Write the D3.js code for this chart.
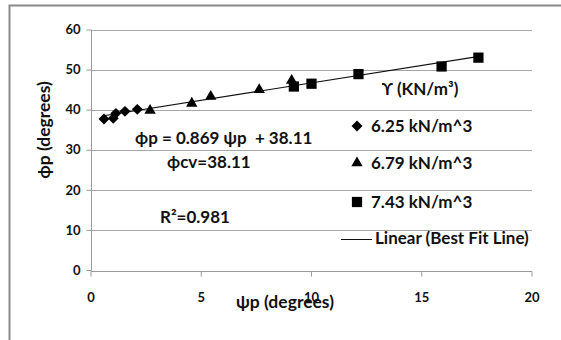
<!DOCTYPE html>
<html>
<head>
    <meta charset="utf-8">
    <style>
        body { margin: 0; background: #fff; }
        text { font-family: Lato, "DejaVu Sans", sans-serif; font-weight: 700; fill: #111; }
    </style>
</head>
<body>
    <div id="container"></div>
    <script src="https://d3js.org/d3.v7.min.js"></script>
    <script>
        // psi_p (deg) vs phi_p (deg)
        const diamondPsi = [0.59, 1.01, 1.13, 1.54, 2.10];
        const diamondPhi = [37.8, 38.0, 39.2, 39.7, 40.2];
        const trianglePsi = [2.68, 4.57, 5.43, 7.63, 9.10];
        const trianglePhi = [39.9, 41.7, 43.4, 45.1, 47.4];
        const squarePsi = [9.2, 10.0, 12.13, 15.9, 17.57];
        const squarePhi = [45.9, 46.6, 49.0, 50.9, 53.1];
        const fitSlope = 0.869, fitIntercept = 38.11;
        const fitRange = [0.5, 17.6];
        const xTicks = [0, 5, 10, 15, 20];
        const yTicks = [0, 10, 20, 30, 40, 50, 60];
        const seriesNames = ["6.25 kN/m^3", "6.79 kN/m^3", "7.43 kN/m^3"];

        const width = 561, height = 340;
        const svg = d3.select("#container").append("svg")
            .attr("width", width).attr("height", height);

        // chart frame (only top/left visible in the crop)
        svg.append("path")
            .attr("d", "M9.5,340 V5.5 H561")
            .attr("fill", "none").attr("stroke", "#8a8a8a").attr("stroke-width", 2);

        const x = d3.scaleLinear().domain([0, 20]).range([91, 532]);
        const y = d3.scaleLinear().domain([0, 60]).range([270.5, 30]);

        // gridlines
        svg.append("g").selectAll("line").data(yTicks.filter(d => d > 0)).join("line")
            .attr("x1", x(0)).attr("x2", x(20))
            .attr("y1", d => Math.round(y(d)) + 0.5).attr("y2", d => Math.round(y(d)) + 0.5)
            .attr("stroke", "#a6a6a6");

        const yAxis = svg.append("g").attr("transform", "translate(91.5,0)")
            .call(d3.axisLeft(y).tickValues(yTicks).tickSize(5).tickPadding(6).offset(0));
        yAxis.select(".domain").attr("stroke", "#999").attr("d", `M0,${y(0)}V${y(60)}`);
        yAxis.selectAll(".tick line").attr("stroke", "#999");
        yAxis.selectAll("text").style("font-size", "13px").attr("fill", "#111");

        const xAxis = svg.append("g").attr("transform", `translate(0,${Math.round(y(0)) + 0.5})`)
            .call(d3.axisBottom(x).tickValues(xTicks).tickSize(5).tickPadding(16).offset(0));
        xAxis.select(".domain").attr("stroke", "#999").attr("d", `M${x(0)},0H${x(20)}`);
        xAxis.selectAll(".tick line").attr("stroke", "#999");
        xAxis.selectAll("text").style("font-size", "13px").attr("fill", "#111");

        // best fit line
        svg.append("line")
            .attr("x1", x(fitRange[0])).attr("y1", y(fitSlope * fitRange[0] + fitIntercept))
            .attr("x2", x(fitRange[1])).attr("y2", y(fitSlope * fitRange[1] + fitIntercept))
            .attr("stroke", "#111").attr("stroke-width", 1.2);

        const diamond = d3.symbol(d3.symbolSquare, 60);
        const triangle = d3.symbol(d3.symbolTriangle, 56);
        const square = d3.symbol(d3.symbolSquare, 105);

        function plot(xs, ys, sym, rot) {
            svg.append("g").selectAll("path").data(xs).join("path")
                .attr("d", sym)
                .attr("transform", (d, i) => `translate(${x(d)},${y(ys[i])}) rotate(${rot})`)
                .attr("fill", "#000");
        }
        plot(diamondPsi, diamondPhi, diamond, 45);
        plot(trianglePsi, trianglePhi, triangle, 0);
        plot(squarePsi, squarePhi, square, 0);

        // annotations
        svg.append("text").attr("x", 135).attr("y", 144).style("font-size", "17px")
            .style("white-space", "pre").text("ϕp = 0.869 ψp  + 38.11");
        svg.append("text").attr("x", 167).attr("y", 168).style("font-size", "17px")
            .text("ϕcv=38.11");
        svg.append("text").attr("x", 160).attr("y", 223).style("font-size", "17px")
            .text("R²=0.981");

        // axis titles
        svg.append("text").attr("x", 285).attr("y", 308).attr("text-anchor", "middle")
            .style("font-size", "17.5px").text("ψp (degrees)");
        svg.append("text").attr("transform", "translate(50,130) rotate(-90)")
            .attr("text-anchor", "middle").style("font-size", "17.5px").text("ϕp (degrees)");

        // legend
        const lg = svg.append("g");
        lg.append("text").attr("x", 420).attr("y", 95).attr("text-anchor", "middle")
            .style("font-size", "17px").text("ϒ (KN/m³)");
        const legSyms = [diamond, triangle, square];
        const legRot = [45, 0, 0];
        const legY = [126, 163, 202];
        seriesNames.forEach((name, i) => {
            lg.append("path").attr("d", legSyms[i])
                .attr("transform", `translate(357,${legY[i]}) rotate(${legRot[i]})`)
                .attr("fill", "#000");
            lg.append("text").attr("x", 371).attr("y", legY[i] + 6)
                .style("font-size", "17px").text(name);
        });
        lg.append("line").attr("x1", 341).attr("x2", 372).attr("y1", 239.5).attr("y2", 239.5)
            .attr("stroke", "#111");
        lg.append("text").attr("x", 375).attr("y", 244).style("font-size", "17px")
            .text("Linear (Best Fit Line)");
    </script>
</body>
</html>
